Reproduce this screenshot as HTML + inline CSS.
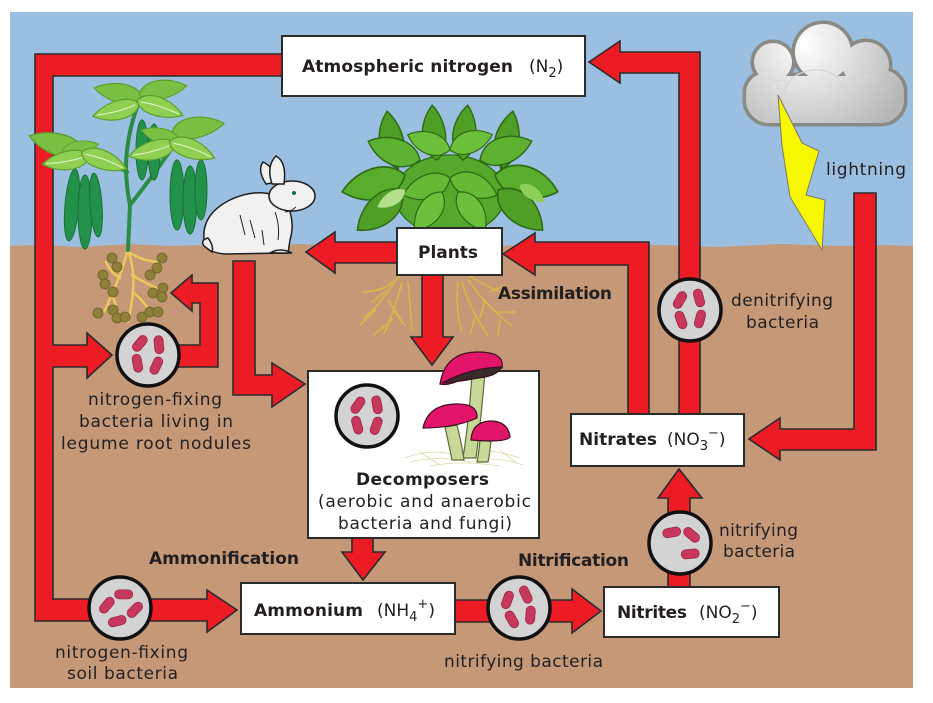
<!DOCTYPE html>
<html><head><meta charset="utf-8">
<style>
html,body{margin:0;padding:0;background:#fff;}
svg{display:block;}
text{font-family:"DejaVu Sans","Liberation Sans",sans-serif;fill:#231f20;}
.b{font-weight:bold;font-size:17px;}
.r{font-size:17px;}
.arr{fill:#ed1c24;stroke:#2b2b2b;stroke-width:1.6;stroke-linejoin:miter;}
.box{fill:#fff;stroke:#2b2b2b;stroke-width:2;}
.cir{fill:#d3d3d3;stroke:#111;stroke-width:3.5;}
.bac rect{fill:#c8385c;stroke:#9a2444;stroke-width:0.8;}
.lf{fill:#8fd052;stroke:#5f9e2c;stroke-width:1.2;}
.lfb{fill:#79c043;stroke:#5f9e2c;stroke-width:1.2;}
.vein{fill:none;stroke:#e6f5cf;stroke-width:1;}
.pod{fill:#22924a;stroke:#1b6e37;stroke-width:1;}
.bl{stroke:#2e6b14;stroke-width:1.3;}
.root{fill:none;stroke:#d9b648;stroke-width:1.6;stroke-linecap:round;}
.lroot{fill:none;stroke:#ecc95a;stroke-width:2.4;stroke-linecap:round;}
.nod{fill:#8e8038;stroke:#6e6228;stroke-width:0.8;}
</style></head><body>
<svg width="933" height="703" viewBox="0 0 933 703" xmlns="http://www.w3.org/2000/svg">
<defs>
<radialGradient id="cg" gradientUnits="userSpaceOnUse" cx="805" cy="45" r="110"><stop offset="0" stop-color="#ffffff"/><stop offset="1" stop-color="#b5b5b5"/></radialGradient>
</defs>
<!-- background -->
<rect x="0" y="0" width="933" height="703" fill="#fff"/>
<rect x="10" y="12" width="903" height="236" fill="#9bbfe0"/>
<path d="M10,246 L40,245 L80,247 L130,244 L170,246 L210,245 L260,247 L300,244 L360,246 L420,245 L480,247 L540,244 L600,246 L660,245 L720,247 L780,244 L840,246 L880,245 L913,246 L913,688 L10,688 Z" fill="#c59878"/>

<!-- cloud -->
<g stroke="#8a8a84" stroke-width="7" fill="#8a8a84">
<rect x="746" y="76" width="158" height="47" rx="23"/>
<circle cx="773" cy="62" r="19"/><circle cx="823" cy="52" r="28"/><circle cx="866" cy="65" r="23"/><circle cx="882" cy="92" r="22"/><circle cx="766" cy="93" r="20"/>
</g>
<g fill="url(#cg)">
<rect x="746" y="76" width="158" height="47" rx="23"/>
<circle cx="773" cy="62" r="19"/><circle cx="766" cy="93" r="20"/><circle cx="866" cy="65" r="23"/><circle cx="882" cy="92" r="22"/><circle cx="823" cy="52" r="28"/>
</g>
<g fill="none" stroke="#d6d6d6" stroke-width="1.2">
<path d="M782,110 Q780,75 812,70 Q840,68 845,95"/>
<path d="M845,95 Q850,70 875,78"/>
<path d="M760,100 Q765,80 785,80"/>
</g>
<!-- lightning -->
<polygon points="778,95 802,143 819,151 806,195 825,200 822,250 790,197 782,146" fill="#f7f700" stroke="#7a7a70" stroke-width="1"/>

<!-- roots under plants -->
<g class="root">
<path d="M400,276 Q385,292 362,292 M396,280 Q380,305 364,318 M402,282 Q395,310 384,334 M408,282 Q410,305 412,330 M385,292 L372,302 M388,300 L400,318 M375,310 L360,325 M395,312 L405,326 M392,320 L375,334"/>
<path d="M470,276 Q490,290 520,298 M468,280 Q485,305 512,326 M462,282 Q470,310 488,335 M458,282 Q455,310 462,332 M490,292 L505,285 M485,300 L480,318 M498,312 L515,312 M475,318 L470,334 M500,320 L498,336"/>
</g>

<!-- bush -->
<g class="bl">
<line x1="397" y1="185" x2="399" y2="135" stroke="#2e6b14" stroke-width="3"/>
<line x1="502" y1="185" x2="500" y2="135" stroke="#2e6b14" stroke-width="3"/>
<ellipse cx="450" cy="195" rx="55" ry="40" fill="#56a82c"/>
<path d="M0,0 C10,-16 35,-14 50,0 C35,12 10,14 0,0Z" fill="#4f9e25" transform="translate(397,168) rotate(-100) scale(1.15)"/>
<path d="M0,0 C10,-16 35,-14 50,0 C35,12 10,14 0,0Z" fill="#4f9e25" transform="translate(437,160) rotate(-95) scale(1.1)"/>
<path d="M0,0 C10,-16 35,-14 50,0 C35,12 10,14 0,0Z" fill="#4f9e25" transform="translate(463,160) rotate(-85) scale(1.1)"/>
<path d="M0,0 C10,-16 35,-14 50,0 C35,12 10,14 0,0Z" fill="#4f9e25" transform="translate(503,168) rotate(-80) scale(1.15)"/>
<path d="M0,0 C10,-18 35,-16 50,0 C35,14 10,16 0,0Z" fill="#5db232" transform="translate(420,160) rotate(200) scale(1.1)"/>
<path d="M0,0 C10,-18 35,-16 50,0 C35,14 10,16 0,0Z" fill="#5db232" transform="translate(480,160) rotate(-20) scale(1.1)"/>
<path d="M0,0 C10,-18 35,-16 50,0 C35,14 10,16 0,0Z" fill="#58ad2c" transform="translate(405,175) rotate(165) scale(1.3)"/>
<path d="M0,0 C10,-18 35,-16 50,0 C35,14 10,16 0,0Z" fill="#4f9e25" transform="translate(402,190) rotate(138) scale(1.2)"/>
<path d="M0,0 C10,-18 35,-16 50,0 C35,14 10,16 0,0Z" fill="#58ad2c" transform="translate(495,175) rotate(15) scale(1.3)"/>
<path d="M0,0 C10,-18 35,-16 50,0 C35,14 10,16 0,0Z" fill="#4f9e25" transform="translate(498,190) rotate(42) scale(1.2)"/>
<path d="M0,0 C10,-18 35,-16 50,0 C35,14 10,16 0,0Z" fill="#6cbf3a" transform="translate(450,150) rotate(200) scale(0.9)"/>
<path d="M0,0 C10,-18 35,-16 50,0 C35,14 10,16 0,0Z" fill="#6cbf3a" transform="translate(450,150) rotate(-20) scale(0.9)"/>
<path d="M0,0 C10,-18 35,-16 50,0 C35,14 10,16 0,0Z" fill="#66b935" transform="translate(450,178) rotate(160) scale(1.0)"/>
<path d="M0,0 C10,-18 35,-16 50,0 C35,14 10,16 0,0Z" fill="#66b935" transform="translate(450,178) rotate(20) scale(1.0)"/>
<path d="M0,0 C10,-18 35,-16 50,0 C35,14 10,16 0,0Z" fill="#6cbf3a" transform="translate(442,192) rotate(125) scale(0.95)"/>
<path d="M0,0 C10,-18 35,-16 50,0 C35,14 10,16 0,0Z" fill="#6cbf3a" transform="translate(458,192) rotate(55) scale(0.95)"/>
<path d="M0,0 C10,-16 35,-14 50,0 C35,12 10,14 0,0Z" fill="#b4e08c" stroke="none" transform="translate(405,190) rotate(148) scale(0.65)"/>
<path d="M0,0 C10,-16 35,-14 50,0 C35,12 10,14 0,0Z" fill="#8fd05a" stroke="none" transform="translate(520,185) rotate(35) scale(0.6)"/>
</g>

<!-- rabbit -->
<g stroke="#1e1e1e" stroke-width="1.5" fill="#f1f1f1">
<path d="M266,184 Q257,170 263,162 Q274,167 277,182 Z"/>
<path d="M205,246 Q198,215 232,199 Q262,186 285,200 Q296,220 290,240 L288,253 L226,254 Q210,253 205,246 Z"/>
<ellipse cx="292" cy="196" rx="23" ry="15"/>
<path d="M272,184 Q266,166 276,156 Q287,162 284,184 Z"/>
<path d="M204,246 Q200,240 208,238 Q214,246 212,252 Z"/>
<path d="M270,253 Q280,247 292,253 Z"/>
</g>
<g stroke="#222" stroke-width="1" fill="none">
<path d="M240,215 L245,235 M250,220 L255,238 M262,230 L264,245 M275,212 Q280,225 278,240 M296,207 Q290,212 285,212"/>
</g>
<circle cx="294" cy="193" r="2" fill="#1b6e4a"/>

<!-- arrows -->
<polygon class="arr" points="282,54 35,54 35,621 207,621 207,632 237,610 207,590 207,599 53,599 53,367 87,367 87,378 112,355 87,333 87,345 53,345 53,76 282,76"/>
<polygon class="arr" points="175,345 200,345 200,303 192,303 192,311 171,293 192,275 192,283 218,283 218,367 175,367"/>
<polygon class="arr" points="233,261 255,261 255,375 272,375 272,363 305,384 272,407 272,395 233,395"/>
<polygon class="arr" points="400,242 335,242 335,232 306,252 335,273 335,263 400,263"/>
<polygon class="arr" points="422,272 422,337 411,337 432,365 453,337 443,337 443,272"/>
<polygon class="arr" points="649,414 649,242 535,242 535,233 503,254 535,275 535,265 628,265 628,414"/>
<polygon class="arr" points="700,414 700,52 620,52 620,41 589,62 620,83 620,73 679,73 679,414"/>
<polygon class="arr" points="854,193 876,193 876,450 780,450 780,460 749,439 780,418 780,429 854,429"/>
<polygon class="arr" points="352,536 352,552 342,552 363,580 385,552 373,552 373,536"/>
<polygon class="arr" points="453,600 572,600 572,589 601,611 572,633 572,622 453,622"/>
<polygon class="arr" points="668,589 668,498 658,498 679,469 702,498 690,498 690,589"/>

<!-- legume plant -->
<g class="lroot">
<path d="M128,248 Q124,265 118,280 Q112,295 104,312 M128,250 Q135,270 133,290 Q132,305 128,322 M128,252 Q145,262 160,262 M132,275 Q148,285 162,290 M120,278 Q110,272 106,262 M133,292 Q145,302 152,315 M112,296 Q118,305 116,318"/>
</g>
<g class="nod">
<circle cx="112" cy="258" r="5"/><circle cx="117" cy="267" r="5"/><circle cx="103" cy="275" r="5"/><circle cx="105" cy="284" r="5"/><circle cx="113" cy="292" r="5"/>
<circle cx="162" cy="258" r="5"/><circle cx="157" cy="268" r="5"/><circle cx="150" cy="275" r="5"/><circle cx="163" cy="288" r="5"/><circle cx="153" cy="293" r="5"/><circle cx="162" cy="297" r="5"/>
<circle cx="98" cy="313" r="5"/><circle cx="113" cy="310" r="5"/><circle cx="117" cy="318" r="5"/><circle cx="125" cy="317" r="5"/><circle cx="142" cy="317" r="5"/><circle cx="150" cy="312" r="5"/><circle cx="158" cy="312" r="5"/>
</g>
<g fill="none" stroke="#2a8c45" stroke-width="4" stroke-linecap="round">
<path d="M128,250 L130,205 Q124,175 127,150 Q130,125 138,105"/>
<path d="M130,205 Q150,180 172,148"/>
<path d="M127,172 Q110,162 90,155"/>
</g>
<g>
<ellipse class="pod" cx="72" cy="205" rx="7" ry="36" transform="rotate(5 72 205)"/>
<ellipse class="pod" cx="85" cy="212" rx="7" ry="37"/>
<ellipse class="pod" cx="96" cy="205" rx="6" ry="32" transform="rotate(-4 96 205)"/>
<ellipse class="pod" cx="177" cy="195" rx="7" ry="35"/>
<ellipse class="pod" cx="190" cy="200" rx="7" ry="34"/>
<ellipse class="pod" cx="201" cy="190" rx="6" ry="30"/>
<ellipse class="pod" cx="142" cy="150" rx="6" ry="30"/>
<ellipse class="pod" cx="154" cy="152" rx="6" ry="28"/>
</g>
<g>
<!-- top cluster -->
<g transform="translate(118,92) rotate(190)"><path class="lfb" d="M-24,0 C-18,-14 8,-13 24,0 C8,11 -18,12 -24,0Z"/></g>
<g transform="translate(163,90) rotate(-10)"><path class="lfb" d="M-24,0 C-18,-14 8,-13 24,0 C8,11 -18,12 -24,0Z"/></g>
<g transform="translate(116,110) rotate(165)"><path class="lf" d="M-24,0 C-18,-14 8,-13 24,0 C8,11 -18,12 -24,0Z"/><path class="vein" d="M-20,0 Q0,-3 20,0"/></g>
<g transform="translate(160,108) rotate(18)"><path class="lf" d="M-24,0 C-18,-14 8,-13 24,0 C8,11 -18,12 -24,0Z"/><path class="vein" d="M-20,0 Q0,-3 20,0"/></g>
<!-- left cluster -->
<g transform="translate(56,143) rotate(195) scale(1.15)"><path class="lfb" d="M-24,0 C-18,-14 8,-13 24,0 C8,11 -18,12 -24,0Z"/></g>
<g transform="translate(80,149) rotate(-15) scale(0.8)"><path class="lfb" d="M-24,0 C-18,-14 8,-13 24,0 C8,11 -18,12 -24,0Z"/></g>
<g transform="translate(66,160) rotate(170)"><path class="lf" d="M-24,0 C-18,-14 8,-13 24,0 C8,11 -18,12 -24,0Z"/><path class="vein" d="M-20,0 Q0,-3 20,0"/></g>
<g transform="translate(104,161) rotate(20)"><path class="lf" d="M-24,0 C-18,-14 8,-13 24,0 C8,11 -18,12 -24,0Z"/><path class="vein" d="M-20,0 Q0,-3 20,0"/></g>
<!-- right cluster -->
<g transform="translate(198,128) rotate(-10) scale(1.1)"><path class="lfb" d="M-24,0 C-18,-14 8,-13 24,0 C8,11 -18,12 -24,0Z"/></g>
<g transform="translate(160,135) rotate(195) scale(0.8)"><path class="lfb" d="M-24,0 C-18,-14 8,-13 24,0 C8,11 -18,12 -24,0Z"/></g>
<g transform="translate(152,150) rotate(165)"><path class="lf" d="M-24,0 C-18,-14 8,-13 24,0 C8,11 -18,12 -24,0Z"/><path class="vein" d="M-20,0 Q0,-3 20,0"/></g>
<g transform="translate(192,150) rotate(20)"><path class="lf" d="M-24,0 C-18,-14 8,-13 24,0 C8,11 -18,12 -24,0Z"/><path class="vein" d="M-20,0 Q0,-3 20,0"/></g>
</g>

<!-- boxes -->
<rect class="box" x="282" y="36" width="303" height="60"/>
<rect class="box" x="397" y="228" width="105" height="47"/>
<rect class="box" x="308" y="371" width="231" height="167"/>
<rect class="box" x="241" y="583" width="214" height="51"/>
<rect class="box" x="604" y="587" width="175" height="50"/>
<rect class="box" x="571" y="414" width="173" height="52"/>

<!-- mushrooms -->
<g fill="none" stroke="#ddd6a8" stroke-width="0.8">
<path d="M405,458 Q430,448 455,455 Q480,445 520,458 M410,462 Q440,455 470,462 Q495,455 523,465 M420,452 L440,465 M500,450 L515,462 M430,466 Q460,460 500,466"/>
</g>
<g stroke="#5d6b35" stroke-width="1.2" fill="#c8d898">
<path d="M472,374 L485,372 Q481,420 476,458 L463,458 Q469,420 472,374Z"/>
<path d="M445,427 L457,425 Q462,445 464,460 L452,460 Q449,445 445,427Z"/>
<path d="M480,440 L491,440 Q490,452 488,462 L477,462 Q479,452 480,440Z"/>
</g>
<g stroke="#3a1020" stroke-width="1.2">
<path d="M440,384 Q445,352 478,352 Q505,352 502,368 Q480,372 460,380 Q448,386 440,384 Z" fill="#e3156a"/>
<path d="M442,383 Q470,368 501,367 Q498,376 478,378 Q458,382 442,383Z" fill="#3a2a2a"/>
<path d="M423,428 Q428,405 455,404 Q478,403 477,418 Q455,428 423,428 Z" fill="#e3156a"/>
<path d="M471,440 Q472,422 490,421 Q508,421 510,437 Q505,443 471,440Z" fill="#e3156a"/>
</g>

<!-- bacteria circles -->
<g transform="translate(148,355)"><circle class="cir" r="31"/><g class="bac" transform="rotate(10)"><rect x="-14.5" y="-19" width="9" height="18" rx="4.5" transform="rotate(30 -10 -10)"/><rect x="4.5" y="-21" width="9" height="18" rx="4.5" transform="rotate(-15 9 -12)"/><rect x="-13.5" y="1" width="9" height="18" rx="4.5" transform="rotate(-20 -9 10)"/><rect x="5.5" y="0" width="9" height="18" rx="4.5" transform="rotate(15 10 9)"/></g></g>
<g transform="translate(120,608)"><circle class="cir" r="31"/><g class="bac" transform="rotate(60)"><rect x="-14.5" y="-19" width="9" height="18" rx="4.5" transform="rotate(30 -10 -10)"/><rect x="4.5" y="-21" width="9" height="18" rx="4.5" transform="rotate(-15 9 -12)"/><rect x="-13.5" y="1" width="9" height="18" rx="4.5" transform="rotate(-20 -9 10)"/><rect x="5.5" y="0" width="9" height="18" rx="4.5" transform="rotate(15 10 9)"/></g></g>
<g transform="translate(519,608)"><circle class="cir" r="31"/><g class="bac" transform="rotate(-10)"><rect x="-14.5" y="-19" width="9" height="18" rx="4.5" transform="rotate(30 -10 -10)"/><rect x="4.5" y="-21" width="9" height="18" rx="4.5" transform="rotate(-15 9 -12)"/><rect x="-13.5" y="1" width="9" height="18" rx="4.5" transform="rotate(-20 -9 10)"/><rect x="5.5" y="0" width="9" height="18" rx="4.5" transform="rotate(15 10 9)"/></g></g>
<g transform="translate(680,543)"><circle class="cir" r="31"/><g class="bac" transform="rotate(100)"><rect x="-14.5" y="-19" width="9" height="18" rx="4.5" transform="rotate(30 -10 -10)"/><rect x="4.5" y="-21" width="9" height="18" rx="4.5" transform="rotate(-15 9 -12)"/><rect x="-13.5" y="1" width="9" height="18" rx="4.5" transform="rotate(-20 -9 10)"/></g></g>
<g transform="translate(690,310)"><circle class="cir" r="31"/><g class="bac" transform="rotate(0)"><rect x="-14.5" y="-19" width="9" height="18" rx="4.5" transform="rotate(30 -10 -10)"/><rect x="4.5" y="-21" width="9" height="18" rx="4.5" transform="rotate(-15 9 -12)"/><rect x="-13.5" y="1" width="9" height="18" rx="4.5" transform="rotate(-20 -9 10)"/><rect x="5.5" y="0" width="9" height="18" rx="4.5" transform="rotate(15 10 9)"/></g></g>
<g transform="translate(367,416)"><circle class="cir" r="31"/><g class="bac" transform="rotate(5)"><rect x="-14.5" y="-19" width="9" height="18" rx="4.5" transform="rotate(30 -10 -10)"/><rect x="4.5" y="-21" width="9" height="18" rx="4.5" transform="rotate(-15 9 -12)"/><rect x="-13.5" y="1" width="9" height="18" rx="4.5" transform="rotate(-20 -9 10)"/><rect x="5.5" y="0" width="9" height="18" rx="4.5" transform="rotate(15 10 9)"/></g></g>

<!-- text -->
<text class="b" x="302" y="72" textLength="211" lengthAdjust="spacing">Atmospheric nitrogen</text>
<text class="r" x="529" y="72">(N<tspan font-size="13" dy="5">2</tspan><tspan dy="-5">)</tspan></text>
<text class="b" x="418" y="258" textLength="60" lengthAdjust="spacing">Plants</text>
<text class="b" x="498" y="299" textLength="114" lengthAdjust="spacing">Assimilation</text>
<text class="r" x="826" y="175" textLength="80" lengthAdjust="spacing">lightning</text>
<text class="r" x="731" y="306" textLength="102" lengthAdjust="spacing">denitrifying</text>
<text class="r" x="746" y="328" textLength="73" lengthAdjust="spacing">bacteria</text>
<text class="r" x="88" y="405" textLength="134" lengthAdjust="spacing">nitrogen-fixing</text>
<text class="r" x="79" y="427" textLength="154" lengthAdjust="spacing">bacteria living in</text>
<text class="r" x="61" y="449" textLength="190" lengthAdjust="spacing">legume root nodules</text>
<text class="b" x="356" y="485" textLength="133" lengthAdjust="spacing">Decomposers</text>
<text class="r" x="318" y="507" textLength="213" lengthAdjust="spacing">(aerobic and anaerobic</text>
<text class="r" x="338" y="529" textLength="174" lengthAdjust="spacing">bacteria and fungi)</text>
<text class="b" x="149" y="564" textLength="150" lengthAdjust="spacing">Ammonification</text>
<text class="b" x="254" y="616" textLength="109" lengthAdjust="spacing">Ammonium</text>
<text class="r" x="377" y="616">(NH<tspan font-size="13" dy="5">4</tspan><tspan font-size="13" dy="-13">+</tspan><tspan dy="8">)</tspan></text>
<text class="r" x="55" y="658" textLength="133" lengthAdjust="spacing">nitrogen-fixing</text>
<text class="r" x="67" y="679" textLength="111" lengthAdjust="spacing">soil bacteria</text>
<text class="b" x="518" y="566" textLength="111" lengthAdjust="spacing">Nitrification</text>
<text class="r" x="444" y="667" textLength="159" lengthAdjust="spacing">nitrifying bacteria</text>
<text class="b" x="579" y="445" textLength="78" lengthAdjust="spacing">Nitrates</text>
<text class="r" x="667" y="445">(NO<tspan font-size="13" dy="5">3</tspan><tspan font-size="13" dy="-13">−</tspan><tspan dy="8">)</tspan></text>
<text class="b" x="617" y="618" textLength="70" lengthAdjust="spacing">Nitrites</text>
<text class="r" x="699" y="618">(NO<tspan font-size="13" dy="5">2</tspan><tspan font-size="13" dy="-13">−</tspan><tspan dy="8">)</tspan></text>
<text class="r" x="719" y="536" textLength="79" lengthAdjust="spacing">nitrifying</text>
<text class="r" x="723" y="557" textLength="72" lengthAdjust="spacing">bacteria</text>
</svg>
</body></html>
